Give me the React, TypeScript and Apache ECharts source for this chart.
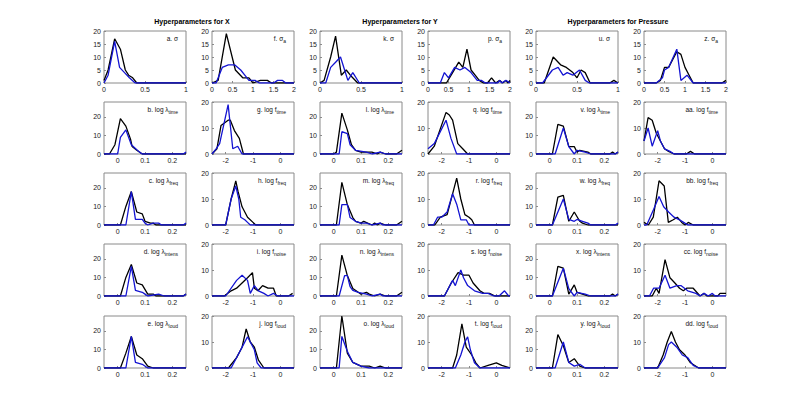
import React, { useEffect, useRef } from 'react';
import * as echarts from 'echarts';

const titles = ['Hyperparameters for X', 'Hyperparameters for Y', 'Hyperparameters for Pressure'];
const titleCenters = [192, 400, 618];

const sigmaTicks = [0, 0.5, 1];
const sigmaATicks = [0, 0.5, 1, 1.5, 2];
const lambdaTicks = [0, 0.1, 0.2];
const fTicks = [-2, -1, 0];
const yTicksSigma = [0, 5, 10, 15, 20];
const yTicksOther = [0, 10, 20];

// ---- Row 1 (sigma) ----
const a_k = [[0,1],[0.05,5],[0.13,17],[0.2,13],[0.26,5],[0.3,3],[0.35,2],[0.4,0],[1,0]];
const a_b = [[0,0],[0.05,3],[0.13,16],[0.19,6],[0.25,4],[0.31,2],[0.38,0],[1,0]];
const f_k = [[0,0],[0.15,1],[0.35,19],[0.57,5],[0.75,2],[0.9,2],[1.0,0],[1.18,1],[1.35,1],[1.45,0],[2,0]];
const f_b = [[0,0],[0.1,0],[0.25,6],[0.4,7],[0.55,7],[0.7,5],[0.8,3],[0.9,1],[1.05,1],[1.15,0],[1.5,0],[1.6,1],[1.72,1],[1.8,0],[2,0]];
const k_k = [[0,0],[0.05,1],[0.13,10],[0.19,18],[0.26,3],[0.32,5],[0.37,3],[0.46,0],[1,0]];
const k_b = [[0,0],[0.07,0],[0.13,6],[0.19,8],[0.25,10],[0.3,5],[0.34,1],[0.4,4],[0.48,0],[1,0]];
const p_k = [[0,0],[0.45,0],[0.6,4],[0.75,8],[0.85,6],[0.95,13],[1.05,5],[1.15,3],[1.25,1],[1.35,0],[1.45,0],[1.55,2],[1.65,0],[1.75,1],[1.82,0],[1.9,1],[1.95,0],[2,1]];
const p_b = [[0,0],[0.3,0],[0.4,4],[0.5,2],[0.65,6],[0.78,5],[0.9,6],[1.05,4],[1.2,1],[1.3,1],[1.4,0],[1.7,0],[1.75,1],[1.8,0],[1.9,1],[2,0]];
const u_k = [[0,0],[0.1,0],[0.21,10],[0.3,7],[0.37,6],[0.45,4],[0.5,2],[0.55,5],[0.6,4],[0.66,0],[0.9,0],[0.95,1],[1,0]];
const u_b = [[0,0],[0.08,0],[0.2,5],[0.27,6],[0.33,3],[0.38,4],[0.45,3],[0.53,5],[0.6,1],[0.65,0],[1,0]];
const z_k = [[0,0],[0.3,0],[0.4,1],[0.5,6],[0.6,6],[0.8,12],[0.9,11],[1.0,6],[1.1,3],[1.2,0],[1.9,0],[2,1]];
const z_b = [[0,0],[0.3,0],[0.45,2],[0.5,5],[0.6,6],[0.8,13],[0.9,1],[1.05,3],[1.2,0],[2,0]];

// ---- Row 2 ----
const b_k = [[-0.05,0],[-0.03,0],[-0.01,5],[0.01,19],[0.03,15],[0.047,8],[0.053,4],[0.07,2],[0.09,0],[0.25,0]];
const b_b = [[-0.05,0],[0,0],[0.01,9],[0.03,13],[0.05,5],[0.065,3],[0.08,1],[0.09,0],[0.24,0],[0.25,1]];
const g_k = [[-2.5,0],[-2.32,2],[-2.17,11],[-1.91,13],[-1.83,13],[-1.68,9],[-1.5,6],[-1.35,0],[0.5,0]];
const g_b = [[-2.5,0],[-2.35,2],[-2.22,4],[-1.91,19],[-1.74,2],[-1.56,3],[-1.4,0],[0.5,0]];
const l_k = [[-0.05,0],[0,0],[0.01,1],[0.03,22],[0.05,13],[0.065,5],[0.08,2],[0.1,1],[0.14,1],[0.16,0],[0.17,1],[0.19,0],[0.23,0],[0.25,2]];
const l_b = [[-0.05,0],[0.02,0],[0.03,12],[0.05,11],[0.06,5],[0.08,2],[0.12,1],[0.14,0],[0.17,1],[0.19,0],[0.25,0]];
const q_k = [[-2.5,0],[-2.27,3],[-1.84,16],[-1.72,15],[-1.6,13],[-1.41,4],[-1.23,2],[-1.05,0],[0.5,0]];
const q_b = [[-2.5,2],[-2.27,4],[-1.84,13],[-1.66,6],[-1.45,0],[0.5,0]];
const v_k = [[-0.05,0],[0.01,0],[0.03,16],[0.05,15],[0.07,4],[0.09,4],[0.1,1],[0.11,2],[0.14,1],[0.15,0],[0.22,0],[0.23,1],[0.24,0],[0.25,1]];
const v_b = [[-0.05,0],[0.02,0],[0.05,14],[0.07,4],[0.09,0],[0.1,2],[0.13,1],[0.15,0],[0.24,0],[0.25,1]];
const aa_k = [[-2.5,5],[-2.35,14],[-2.2,13],[-2.05,8],[-1.9,5],[-1.75,2],[-1.6,1],[-1.4,0],[-0.95,0],[-0.8,1],[-0.65,0],[0.5,0]];
const aa_b = [[-2.5,5],[-2.35,10],[-2.2,3],[-2.0,9],[-1.9,5],[-1.75,2],[-1.55,1],[-1.4,0],[0.5,0]];

// ---- Row 3 ----
const c_k = [[-0.05,0],[0.01,0],[0.03,10],[0.05,18],[0.07,7],[0.09,6],[0.1,2],[0.12,1],[0.13,1],[0.14,0],[0.25,0]];
const c_b = [[-0.05,0],[0.03,0],[0.05,18],[0.065,3],[0.09,3],[0.1,1],[0.11,0],[0.13,1],[0.15,1],[0.16,0],[0.24,0],[0.25,1]];
const h_k = [[-2.5,0],[-2.0,0],[-1.8,10],[-1.63,17],[-1.55,13],[-1.4,7],[-1.2,3],[-1.0,1],[-0.9,0],[0.5,0]];
const h_b = [[-2.5,0],[-2.0,0],[-1.8,10],[-1.63,15],[-1.52,10],[-1.45,3],[-1.3,2],[-1.2,1],[-1.1,0],[0.5,0]];
const m_k = [[-0.05,0],[0.01,0],[0.03,23],[0.05,11],[0.07,4],[0.08,2],[0.1,1],[0.11,2],[0.14,0],[0.15,1],[0.16,0],[0.17,1],[0.19,0],[0.23,0],[0.25,2]];
const m_b = [[-0.05,0],[0.02,0],[0.03,11],[0.05,11],[0.06,4],[0.08,2],[0.1,1],[0.12,1],[0.14,0],[0.17,1],[0.18,0],[0.25,0]];
const r_k = [[-2.5,0],[-2.25,0],[-2.05,3],[-1.8,4],[-1.6,12],[-1.45,18],[-1.3,10],[-1.15,4],[-1.0,3],[-0.9,2],[-0.8,0],[0.5,0]];
const r_b = [[-2.5,0],[-2.3,0],[-2.15,3],[-2.0,3],[-1.8,5],[-1.6,12],[-1.45,8],[-1.3,2],[-1.1,2],[-1.0,0],[0.5,0]];
const w_k = [[-0.05,0],[0.01,0],[0.03,15],[0.05,16],[0.07,2],[0.09,7],[0.11,2],[0.12,1],[0.14,0],[0.25,0]];
const w_b = [[-0.05,0],[0.01,0],[0.05,14],[0.07,3],[0.09,2],[0.1,3],[0.12,2],[0.14,1],[0.15,0],[0.24,0],[0.25,1]];
const bb_k = [[-2.5,1],[-2.34,0],[-2.16,3],[-1.95,17],[-1.76,15],[-1.61,1],[-1.43,2],[-1.28,3],[-1.12,1],[-1.0,0],[-0.88,1],[-0.7,0],[0.5,0]];
const bb_b = [[-2.5,0],[-2.4,0],[-2.15,6],[-1.95,11],[-1.78,7],[-1.6,5],[-1.4,3],[-1.2,2],[-1.05,1],[-0.9,0],[0.5,0]];

// ---- Row 4 ----
const d_k = [[-0.05,0],[0.01,0],[0.03,10],[0.05,17],[0.07,7],[0.09,6],[0.11,1],[0.13,1],[0.14,0],[0.24,0],[0.25,1]];
const d_b = [[-0.05,0],[0.03,0],[0.05,16],[0.065,3],[0.09,2],[0.1,1],[0.11,0],[0.15,1],[0.17,0],[0.24,0],[0.25,1]];
const i_k = [[-2.5,0],[-2.05,0],[-1.8,2],[-1.6,3],[-1.4,5],[-1.2,7],[-1.02,9],[-0.95,3],[-0.82,2],[-0.65,4],[-0.45,3],[-0.25,3],[-0.15,0],[0.3,0],[0.45,1]];
const i_b = [[-2.5,0],[-2.0,0],[-1.6,6],[-1.4,8],[-1.2,6],[-1.1,1],[-0.95,4],[-0.8,2],[-0.6,1],[-0.45,0],[-0.25,1],[-0.1,0],[0.5,0]];
const n_k = [[-0.05,0],[0.01,0],[0.03,22],[0.05,11],[0.07,4],[0.09,2],[0.1,1],[0.12,2],[0.13,1],[0.15,0],[0.17,1],[0.19,0],[0.23,0],[0.25,2]];
const n_b = [[-0.05,0],[0.02,0],[0.04,11],[0.05,11],[0.06,5],[0.07,3],[0.09,2],[0.12,1],[0.14,0],[0.17,1],[0.18,0],[0.25,0]];
const s_k = [[-2.5,0],[-1.9,0],[-1.65,5],[-1.4,9],[-1.2,8],[-1.0,8],[-0.85,5],[-0.6,2],[-0.45,1],[-0.25,1],[-0.05,0],[0.5,0]];
const s_b = [[-2.5,0],[-1.9,0],[-1.6,6],[-1.5,4],[-1.3,10],[-1.2,7],[-1.05,4],[-0.8,2],[-0.5,1],[-0.3,1],[-0.1,0],[0.1,0],[0.3,2],[0.45,0],[0.5,0]];
const x_k = [[-0.05,0],[0.01,0],[0.03,16],[0.05,15],[0.07,1],[0.09,6],[0.1,2],[0.12,1],[0.14,0],[0.22,0],[0.23,1],[0.24,0],[0.25,1]];
const x_b = [[-0.05,0],[0.01,0],[0.05,15],[0.07,4],[0.09,0],[0.1,2],[0.13,1],[0.15,0],[0.24,0],[0.25,1]];
const cc_k = [[-2.5,0],[-2.2,0],[-2.05,3],[-1.95,1],[-1.73,14],[-1.55,7],[-1.37,5],[-1.2,3],[-1.06,2],[-0.94,3],[-0.7,3],[-0.45,0],[-0.3,1],[-0.2,0],[0.2,0],[0.28,1],[0.5,1]];
const cc_b = [[-2.5,0],[-2.3,0],[-2.15,3],[-1.95,3],[-1.73,8],[-1.55,3],[-1.3,4],[-1.15,4],[-0.9,2],[-0.6,1],[-0.45,0],[-0.3,1],[-0.15,0],[0.0,1],[0.1,0],[0.5,0]];

// ---- Row 5 ----
const e_k = [[-0.05,0],[0.01,0],[0.03,8],[0.05,17],[0.07,7],[0.09,5],[0.11,1],[0.13,0],[0.25,0]];
const e_b = [[-0.05,0],[0.03,0],[0.05,17],[0.065,3],[0.09,2],[0.11,0],[0.25,0]];
const j_k = [[-2.5,0],[-1.9,0],[-1.6,4],[-1.4,8],[-1.25,15],[-1.1,10],[-0.95,8],[-0.8,3],[-0.6,0],[0.5,0]];
const j_b = [[-2.5,0],[-1.8,0],[-1.55,5],[-1.35,9],[-1.2,12],[-1.1,10],[-0.95,7],[-0.85,2],[-0.7,0],[0.5,0]];
const o_k = [[-0.05,0],[0.01,0],[0.03,28],[0.05,8],[0.07,3],[0.1,1],[0.13,1],[0.15,0],[0.17,1],[0.19,0],[0.25,0]];
const o_b = [[-0.05,0],[0.02,0],[0.03,17],[0.05,9],[0.07,3],[0.1,1],[0.13,0],[0.25,0]];
const t_k = [[-2.5,0],[-1.6,0],[-1.45,5],[-1.26,17],[-1.1,8],[-0.9,5],[-0.75,2],[-0.6,0],[-0.3,1],[0,2],[0.2,1],[0.5,0]];
const t_b = [[-2.5,0],[-1.5,0],[-1.3,5],[-1.15,10],[-1.05,12],[-0.95,7],[-0.8,2],[-0.6,0],[0.5,0]];
const y_k = [[-0.05,0],[0.01,0],[0.03,18],[0.05,12],[0.07,3],[0.09,5],[0.11,1],[0.13,0],[0.25,0]];
const y_b = [[-0.05,0],[0.02,0],[0.05,14],[0.07,3],[0.09,1],[0.11,2],[0.13,0],[0.25,0]];
const dd_k = [[-2.5,0],[-2.0,0],[-1.8,5],[-1.65,10],[-1.5,14],[-1.35,10],[-1.2,7],[-1.0,5],[-0.8,2],[-0.5,0],[0.5,0]];
const dd_b = [[-2.5,0],[-2.0,0],[-1.75,4],[-1.6,9],[-1.5,10],[-1.3,8],[-1.1,5],[-0.9,4],[-0.7,1],[-0.5,0],[0.5,0]];

// label text per panel: [main, subscript]
const colLabels = [
  [['a. σ', ''], ['b. log λ', 'time'], ['c. log λ', 'freq'], ['d. log λ', 'intens'], ['e. log λ', 'loud']],
  [['f. σ', 'a'], ['g. log f', 'time'], ['h. log f', 'freq'], ['i. log f', 'noise'], ['j. log f', 'loud']],
  [['k. σ', ''], ['l. log λ', 'time'], ['m. log λ', 'freq'], ['n. log λ', 'intens'], ['o. log λ', 'loud']],
  [['p. σ', 'a'], ['q. log f', 'time'], ['r. log f', 'freq'], ['s. log f', 'noise'], ['t. log f', 'loud']],
  [['u. σ', ''], ['v. log λ', 'time'], ['w. log λ', 'freq'], ['x. log λ', 'intens'], ['y. log λ', 'loud']],
  [['z. σ', 'a'], ['aa. log f', 'time'], ['bb. log f', 'freq'], ['cc. log f', 'noise'], ['dd. log f', 'loud']],
];
const colBlack = [
  [a_k, b_k, c_k, d_k, e_k], [f_k, g_k, h_k, i_k, j_k], [k_k, l_k, m_k, n_k, o_k],
  [p_k, q_k, r_k, s_k, t_k], [u_k, v_k, w_k, x_k, y_k], [z_k, aa_k, bb_k, cc_k, dd_k],
];
const colBlue = [
  [a_b, b_b, c_b, d_b, e_b], [f_b, g_b, h_b, i_b, j_b], [k_b, l_b, m_b, n_b, o_b],
  [p_b, q_b, r_b, s_b, t_b], [u_b, v_b, w_b, x_b, y_b], [z_b, aa_b, bb_b, cc_b, dd_b],
];

const colLeft = [104, 212, 320, 428, 536, 644];
const rowTop = [31, 102, 173, 244, 316];
const PW = 82;
const PH = 52;
const FONT = 'Liberation Sans, Arial, sans-serif';

function fmt(v: number) {
  return String(Math.round(v * 100) / 100);
}

function buildOption() {
  const grids: any[] = [];
  const xAxes: any[] = [];
  const yAxes: any[] = [];
  const series: any[] = [];
  const graphics: any[] = [];
  let gi = 0;
  for (let c = 0; c < 6; c++) {
    for (let r = 0; r < 5; r++) {
      const even = c % 2 === 0;
      let xr: number[], xt: number[], yr: number[], yt: number[];
      if (r === 0) {
        xr = even ? [0, 1] : [0, 2];
        xt = even ? sigmaTicks : sigmaATicks;
        yr = [0, 20];
        yt = yTicksSigma;
      } else if (even) {
        xr = [-0.05, 0.25]; xt = lambdaTicks; yr = [0, 28]; yt = yTicksOther;
      } else {
        xr = [-2.5, 0.5]; xt = fTicks; yr = [0, 20]; yt = yTicksOther;
      }
      const left = colLeft[c];
      const top = rowTop[r];
      grids.push({
        left, top, width: PW, height: PH, show: true,
        borderColor: '#8a8a8a', borderWidth: 1, backgroundColor: 'transparent', containLabel: false,
      });
      xAxes.push({
        type: 'value', gridIndex: gi, min: xr[0], max: xr[1], position: 'bottom',
        axisLine: { show: false, onZero: false },
        splitLine: { show: false },
        axisTick: { show: true, inside: true, length: 2, customValues: xt, lineStyle: { color: '#8a8a8a' } },
        axisLabel: {
          show: true, customValues: xt, fontSize: 7, color: '#222', margin: 3,
          fontFamily: FONT, formatter: (v: number) => fmt(v),
          showMinLabel: true, showMaxLabel: true, hideOverlap: false,
        },
      });
      yAxes.push({
        type: 'value', gridIndex: gi, min: yr[0], max: yr[1], position: 'left',
        axisLine: { show: false, onZero: false },
        splitLine: { show: false },
        axisTick: { show: true, inside: true, length: 2, customValues: yt, lineStyle: { color: '#8a8a8a' } },
        axisLabel: {
          show: true, customValues: yt, fontSize: 7, color: '#222', margin: 3,
          fontFamily: FONT, formatter: (v: number) => fmt(v),
          showMinLabel: true, showMaxLabel: true, hideOverlap: false,
        },
      });
      series.push({
        type: 'line', xAxisIndex: gi, yAxisIndex: gi, data: colBlack[c][r],
        showSymbol: false, symbol: 'none', clip: true, silent: true,
        lineStyle: { color: '#000000', width: 1.3 }, itemStyle: { color: '#000' },
      });
      series.push({
        type: 'line', xAxisIndex: gi, yAxisIndex: gi, data: colBlue[c][r],
        showSymbol: false, symbol: 'none', clip: true, silent: true,
        lineStyle: { color: '#1414d2', width: 1.3 }, itemStyle: { color: '#1414d2' },
      });
      const [main, sub] = colLabels[c][r];
      graphics.push({
        type: 'text',
        x: left + PW - 8,
        y: top + 7,
        style: {
          text: sub ? `{m|${main}}{s|${sub}}` : `{m|${main}}`,
          align: 'right',
          verticalAlign: 'middle',
          fill: '#111',
          fontFamily: FONT,
          rich: {
            m: { fontSize: 6.5, lineHeight: 10, fill: '#111', verticalAlign: 'middle', fontFamily: FONT },
            s: { fontSize: 5, lineHeight: 5, fill: '#111', verticalAlign: 'bottom', fontFamily: FONT },
          },
        },
      });
      gi++;
    }
  }
  titles.forEach((t, i) => {
    graphics.push({
      type: 'text', x: titleCenters[i], y: 21,
      style: {
        text: t, align: 'center', verticalAlign: 'middle', fill: '#000',
        fontSize: 7, fontWeight: 'bold', fontFamily: FONT,
      },
    });
  });
  return {
    animation: false,
    backgroundColor: '#ffffff',
    grid: grids,
    xAxis: xAxes,
    yAxis: yAxes,
    series,
    graphic: graphics,
  };
}

export default function App() {
  const ref = useRef<HTMLDivElement>(null);
  useEffect(() => {
    const chart = echarts.init(ref.current!, null, { renderer: 'svg' });
    chart.setOption(buildOption() as any);
    return () => chart.dispose();
  }, []);
  return (
    <div
      ref={ref}
      style={{ position: 'fixed', left: 0, top: 0, width: 800, height: 413, background: '#fff' }}
    />
  );
}
